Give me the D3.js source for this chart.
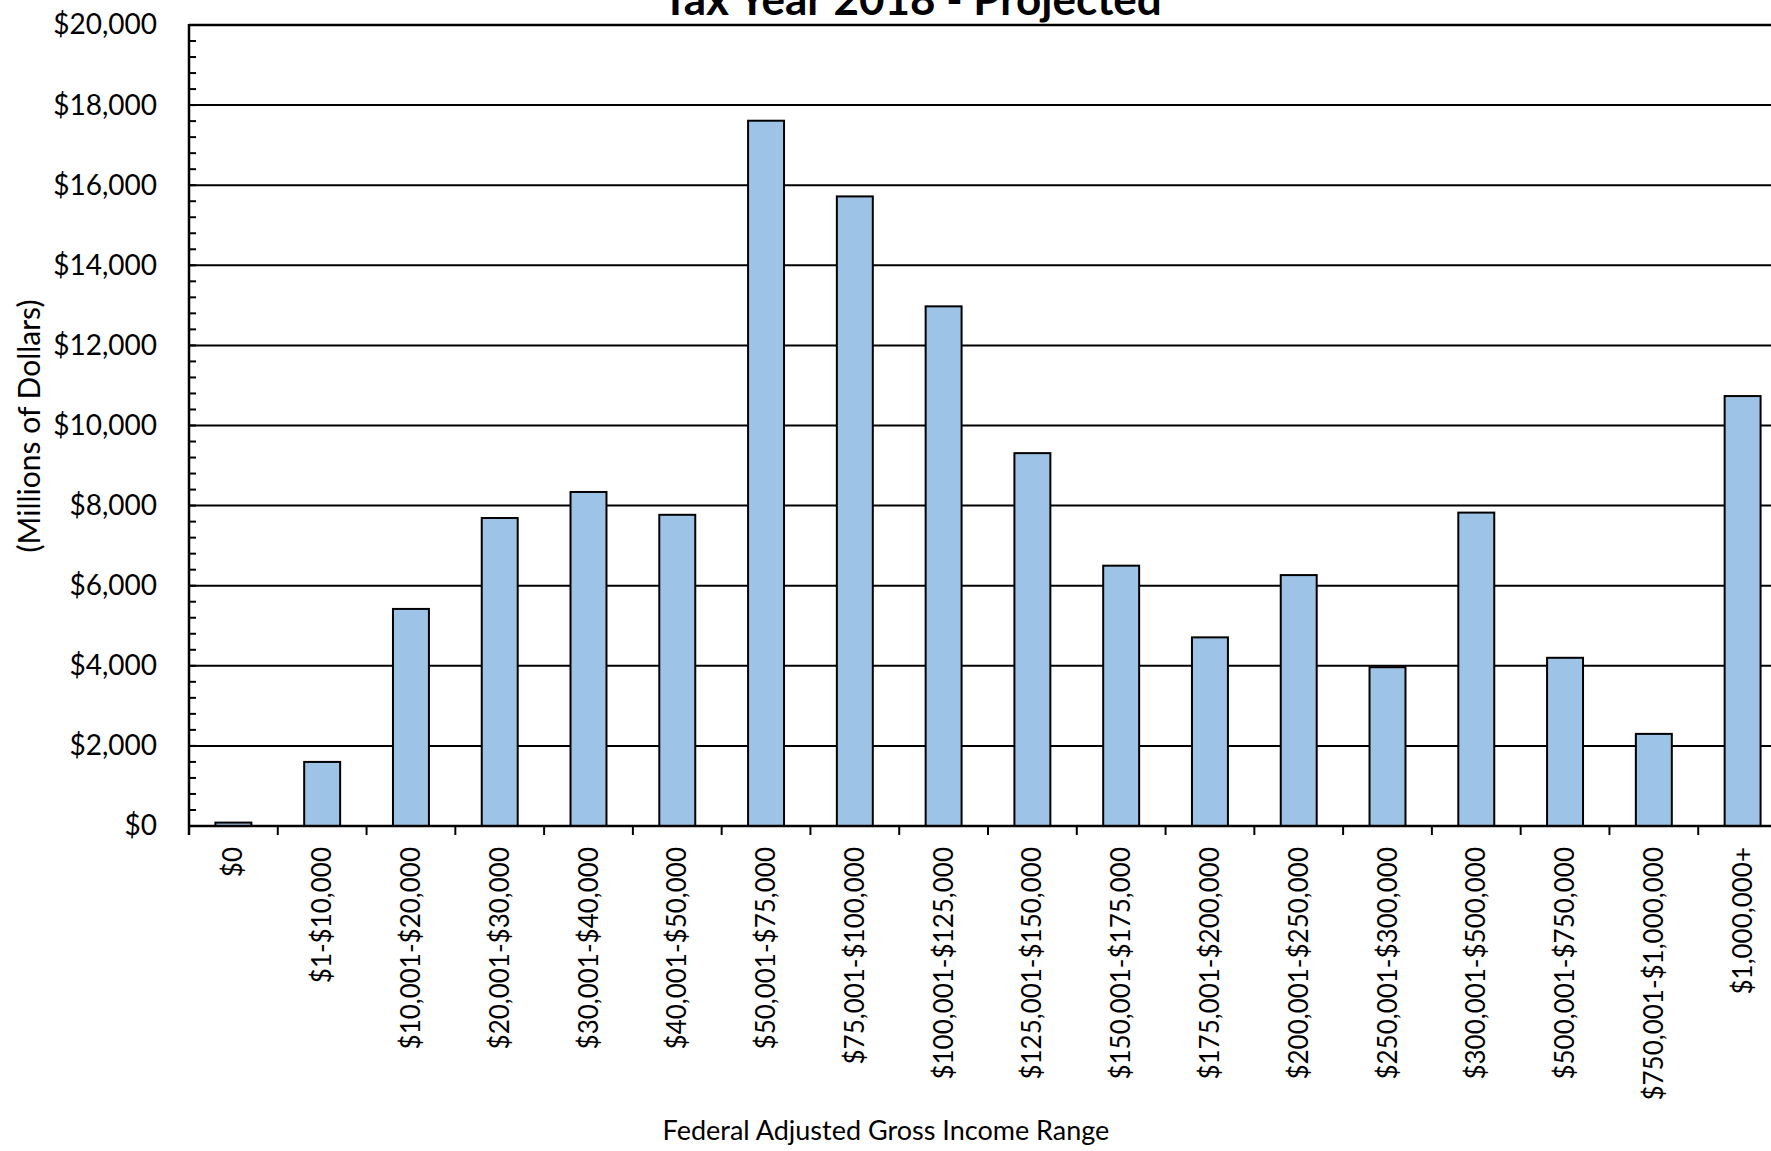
<!DOCTYPE html>
<html>
<head>
<meta charset="utf-8">
<script src="https://cdn.jsdelivr.net/npm/d3@7"></script>
<style>
  html, body { margin: 0; padding: 0; background: #ffffff; overflow: hidden; }
  svg { display: block; font-family: Lato, "Open Sans", sans-serif; }
</style>
</head>
<body>
<svg id="chart" width="1771" height="1151"></svg>
<script>
// Income ranges (federal AGI brackets)
const categories = [
  "$0", "$1-$10,000", "$10,001-$20,000", "$20,001-$30,000", "$30,001-$40,000",
  "$40,001-$50,000", "$50,001-$75,000", "$75,001-$100,000", "$100,001-$125,000",
  "$125,001-$150,000", "$150,001-$175,000", "$175,001-$200,000", "$200,001-$250,000",
  "$250,001-$300,000", "$300,001-$500,000", "$500,001-$750,000",
  "$750,001-$1,000,000", "$1,000,000+"
];

// Amount per bracket, millions of dollars
const values = [
  85, 1600, 5420, 7690, 8340,
  7770, 17610, 15720, 12975,
  9310, 6500, 4710, 6265,
  3965, 7825, 4200,
  2300, 10735
];

// Value-axis tick values
const yTicks = [0, 2000, 4000, 6000, 8000, 10000, 12000, 14000, 16000, 18000, 20000];

const titleText = "Tax Year 2018 - Projected";
const xTitle = "Federal Adjusted Gross Income Range";
const yTitle = "(Millions of Dollars)";

const svg = d3.select("#chart");

const plot = { left: 189, right: 1787, top: 25, bottom: 826 };

const x = d3.scaleBand()
  .domain(categories)
  .range([plot.left, plot.right])
  .paddingInner(0.595)
  .paddingOuter(0.2975);

const y = d3.scaleLinear()
  .domain([0, 20000])
  .range([plot.bottom, plot.top]);

const fmt = v => "$" + d3.format(",")(v);

// Horizontal gridlines
svg.append("g")
  .selectAll("line")
  .data(yTicks)
  .join("line")
  .attr("x1", plot.left)
  .attr("x2", plot.right)
  .attr("y1", d => y(d))
  .attr("y2", d => y(d))
  .attr("stroke", "#000")
  .attr("stroke-width", d => d === 20000 ? 2.5 : 2);

// Bars
svg.append("g")
  .selectAll("rect")
  .data(values)
  .join("rect")
  .attr("x", (d, i) => x(categories[i]))
  .attr("width", x.bandwidth())
  .attr("y", d => y(d))
  .attr("height", d => y(0) - y(d))
  .attr("fill", "#9DC3E6")
  .attr("stroke", "#000")
  .attr("stroke-width", 2);

// Value axis: labels on the left, minor ticks pointing into the plot
const yAxis = d3.axisLeft(y)
  .tickValues(yTicks)
  .tickFormat(fmt)
  .tickSize(0)
  .tickPadding(32);

const yg = svg.append("g")
  .attr("transform", `translate(${plot.left},0)`)
  .call(yAxis);
yg.select(".domain").remove();
yg.selectAll("text")
  .attr("fill", "#000")
  .style("font-family", "Lato, sans-serif")
  .style("font-size", "28px");

const minor = d3.range(0, 20001, 400);
svg.append("g")
  .selectAll("line")
  .data(minor)
  .join("line")
  .attr("x1", plot.left)
  .attr("x2", plot.left + 7)
  .attr("y1", d => y(d))
  .attr("y2", d => y(d))
  .attr("stroke", "#000")
  .attr("stroke-width", 2);

// Axis lines
svg.append("line")
  .attr("x1", plot.left).attr("x2", plot.left)
  .attr("y1", plot.top - 1).attr("y2", plot.bottom + 9)
  .attr("stroke", "#000").attr("stroke-width", 2.5);
svg.append("line")
  .attr("x1", plot.left).attr("x2", plot.right)
  .attr("y1", plot.bottom).attr("y2", plot.bottom)
  .attr("stroke", "#000").attr("stroke-width", 2.5);

// Category boundary ticks below the axis
const gap = (x.step() - x.bandwidth()) / 2;
const bounds = categories.map(c => x(c) - gap).concat([x(categories[categories.length - 1]) + x.bandwidth() + gap]);
svg.append("g")
  .selectAll("line")
  .data(bounds)
  .join("line")
  .attr("x1", d => d).attr("x2", d => d)
  .attr("y1", plot.bottom).attr("y2", plot.bottom + 9)
  .attr("stroke", "#000").attr("stroke-width", 2);

// Rotated category labels
svg.append("g")
  .selectAll("text")
  .data(categories)
  .join("text")
  .attr("transform", d => `translate(${x(d) + x.bandwidth() / 2},${plot.bottom + 21}) rotate(-90)`)
  .attr("text-anchor", "end")
  .attr("dy", "0.35em")
  .attr("fill", "#000")
  .style("font-size", "26px")
  .text(d => d);

// Titles
svg.append("text")
  .attr("x", 912)
  .attr("y", 15)
  .attr("text-anchor", "middle")
  .attr("fill", "#000")
  .style("font-weight", "bold")
  .style("font-size", "44px")
  .text(titleText);

svg.append("text")
  .attr("x", 886)
  .attr("y", 1140)
  .attr("text-anchor", "middle")
  .attr("fill", "#000")
  .style("font-size", "27px")
  .text(xTitle);

svg.append("text")
  .attr("transform", "translate(29,426) rotate(-90)")
  .attr("text-anchor", "middle")
  .attr("dy", "0.35em")
  .attr("fill", "#000")
  .style("font-size", "30px")
  .text(yTitle);
</script>
</body>
</html>
